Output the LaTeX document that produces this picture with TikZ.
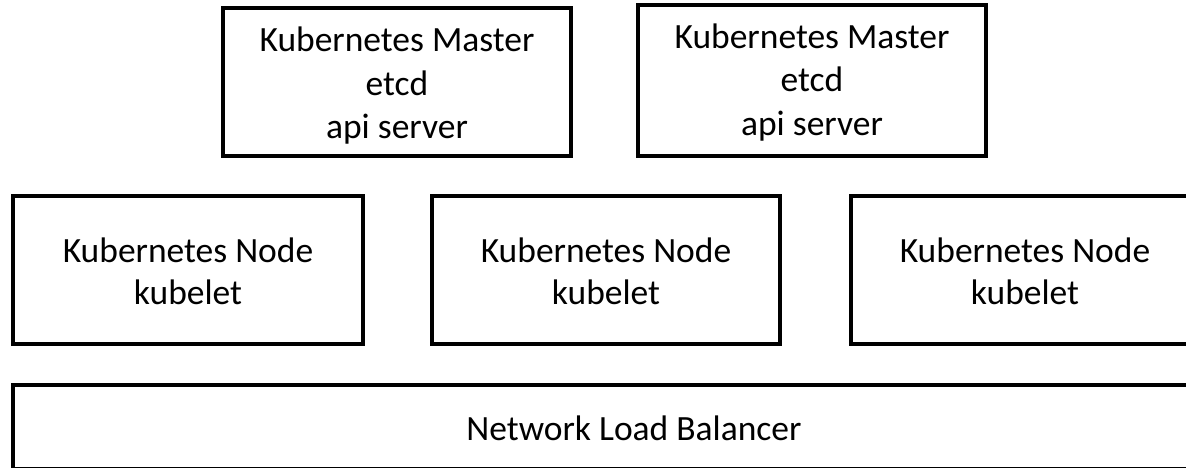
\documentclass[tikz,border=0pt]{standalone}
\usepackage{fontspec}
\setmainfont{Carlito}
\begin{document}
\begin{tikzpicture}[x=1pt,y=-1pt,
  boxnode/.style={draw=black,line width=3.5pt,inner sep=0pt},
  txt/.style={inner sep=0pt,align=center,font=\fontsize{35.5}{42}\selectfont},
  mtxt/.style={txt,font=\fontsize{35.5}{43.5}\selectfont}]
\useasboundingbox (0,0) rectangle (1186,468);
\clip (0,0) rectangle (1186,468);
\node[boxnode,minimum width=348pt,minimum height=148pt] (m1) at (397,82) {};
\node[boxnode,minimum width=348pt,minimum height=151pt] (m2) at (812,80.5) {};
\node[boxnode,minimum width=350pt,minimum height=148pt] (n1) at (188,270) {};
\node[boxnode,minimum width=348pt,minimum height=148pt] (n2) at (606,270) {};
\node[boxnode,minimum width=348pt,minimum height=148pt] (n3) at (1025,270) {};
\node[boxnode,minimum width=1242pt,minimum height=84pt] (nlb) at (634,427) {};
\node[mtxt] (m1t) at ([yshift=-4pt]m1.center) {Kubernetes Master\\etcd\\api server};
\node[mtxt] (m2t) at ([yshift=-2pt]m2.center) {Kubernetes Master\\etcd\\api server};
\node[txt] (n1t) at ([yshift=-1pt]n1.center) {Kubernetes Node\\kubelet};
\node[txt] (n2t) at ([yshift=-1pt]n2.center) {Kubernetes Node\\kubelet};
\node[txt] (n3t) at ([yshift=-1pt]n3.center) {Kubernetes Node\\kubelet};
\node[txt] (nlbt) at ([yshift=-1pt]nlb.center) {Network Load Balancer};
\end{tikzpicture}
\end{document}
